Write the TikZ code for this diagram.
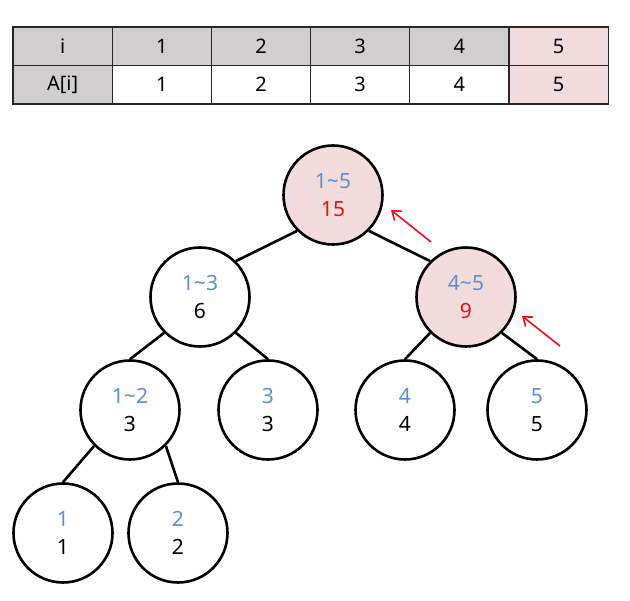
\documentclass[tikz,border=0pt]{standalone}
\usepackage{fontspec}
\setmainfont{Noto Sans}
\usetikzlibrary{arrows.meta}
\definecolor{tgray}{HTML}{D0CECE}
\definecolor{tpink}{HTML}{F2DCDB}
\definecolor{tblue}{HTML}{5B8FD0}
\definecolor{tred}{HTML}{E8101A}
\begin{document}
\begin{tikzpicture}[x=1pt,y=-1pt,
  cell/.style={draw=black!85, line width=1.2pt, minimum width=99.2pt, minimum height=38.5pt, inner sep=0pt, font=\fontsize{20}{24}\selectfont},
  tn/.style={circle, draw, line width=2.6pt, minimum size=99pt, inner sep=0pt, align=center, font=\fontsize{21}{28}\selectfont},
  edge/.style={line width=2.6pt},
  hl/.style={-{Straight Barb[length=8pt,width=12pt]}, tred, line width=1.6pt}]
\useasboundingbox (0,0) rectangle (630,601);
% table
\node[cell, fill=tgray] (h0) at (62.6,46.25) {i};
\node[cell, fill=tgray] (h1) at (161.8,46.25) {1};
\node[cell, fill=tgray] (h2) at (261,46.25) {2};
\node[cell, fill=tgray] (h3) at (360.2,46.25) {3};
\node[cell, fill=tgray] (h4) at (459.4,46.25) {4};
\node[cell, fill=tpink] (h5) at (558.6,46.25) {5};
\node[cell, fill=tgray] (v0) at (62.6,84.75) {A[i]};
\node[cell, fill=white] (v1) at (161.8,84.75) {1};
\node[cell, fill=white] (v2) at (261,84.75) {2};
\node[cell, fill=white] (v3) at (360.2,84.75) {3};
\node[cell, fill=white] (v4) at (459.4,84.75) {4};
\node[cell, fill=tpink] (v5) at (558.6,84.75) {5};
% tree
\node[tn, fill=tpink] (r) at (333,195) {\color{tblue}1\textasciitilde5\\\color{tred}15};
\node[tn] (n13) at (200,297) {\color{tblue}1\textasciitilde3\\\color{black}6};
\node[tn, fill=tpink] (n45) at (466,297) {\color{tblue}4\textasciitilde5\\\color{tred}9};
\node[tn] (n12) at (130,410) {\color{tblue}1\textasciitilde2\\\color{black}3};
\node[tn] (n3) at (268,410) {\color{tblue}3\\\color{black}3};
\node[tn] (n4) at (405,410) {\color{tblue}4\\\color{black}4};
\node[tn] (n5) at (537,410) {\color{tblue}5\\\color{black}5};
\node[tn] (n1) at (63,533) {\color{tblue}1\\\color{black}1};
\node[tn] (n2) at (178,533) {\color{tblue}2\\\color{black}2};
\draw[edge] (r.-135) -- (n13.45);
\draw[edge] (r.-45) -- (n45.135);
\draw[edge] (n13.-135) -- (n12.north);
\draw[edge] (n13.-45) -- (n3.north);
\draw[edge] (n45.-135) -- (n4.north);
\draw[edge] (n45.-45) -- (n5.north);
\draw[edge] (n12.-135) -- (n1.north);
\draw[edge] (n12.-45) -- (n2.north);
% arrows
\coordinate (a1s) at (431,242);
\coordinate (a1e) at (391,210);
\coordinate (a2s) at (560,346);
\coordinate (a2e) at (522,316);
\draw[hl] (a1s) -- (a1e);
\draw[hl] (a2s) -- (a2e);
\end{tikzpicture}
\end{document}
